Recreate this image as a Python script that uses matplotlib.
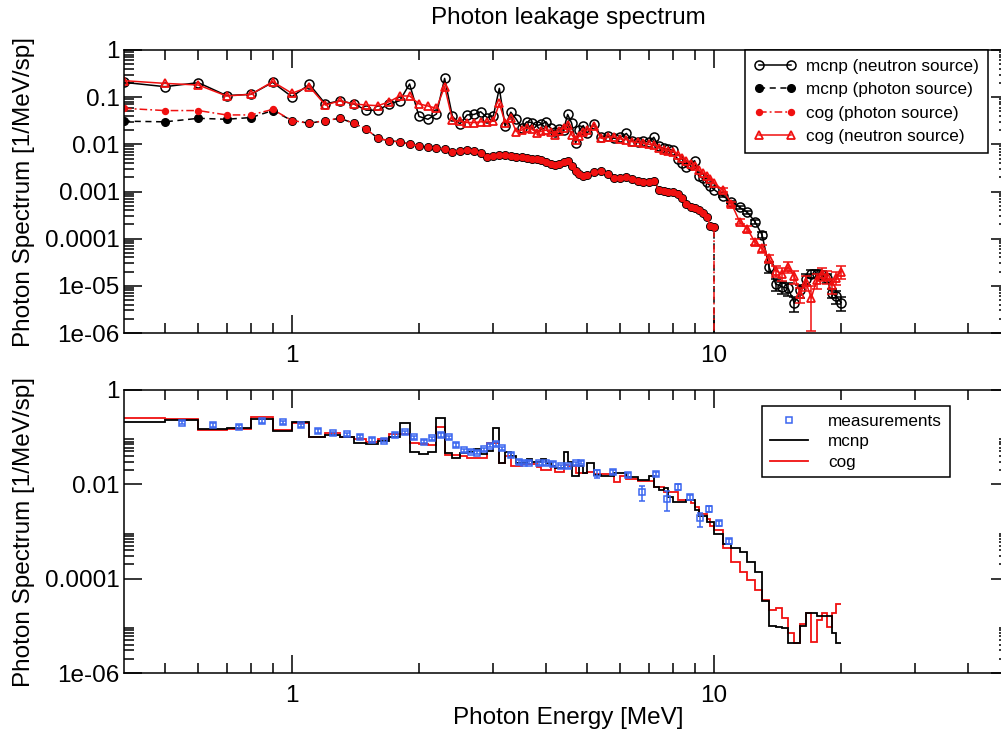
import matplotlib
matplotlib.use("Agg")
import numpy as np
import matplotlib.pyplot as plt
from matplotlib.ticker import FixedLocator, FixedFormatter, NullFormatter

# %% DATA
# photon energy grid of the top panel [MeV]
e_grid = [0.4, 0.5, 0.6, 0.7, 0.8, 0.9, 1.0, 1.1, 1.2, 1.3,
          1.4, 1.5, 1.6, 1.7, 1.8, 1.9, 2.0, 2.1, 2.2, 2.3,
          2.4, 2.5, 2.6, 2.7, 2.8, 2.9, 3.0, 3.1, 3.2, 3.3,
          3.4, 3.5, 3.6, 3.7, 3.8, 3.9, 4.0, 4.1, 4.2, 4.3,
          4.4, 4.5, 4.6, 4.7, 4.8, 4.9, 5.0,
          5.2, 5.4, 5.6, 5.8, 6.0, 6.2, 6.4, 6.6, 6.8, 7.0,
          7.2, 7.4, 7.6, 7.8, 8.0, 8.2, 8.4, 8.6, 8.8, 9.0,
          9.2, 9.4, 9.6, 9.8, 10.0]
e_tail = [10.5, 11.0, 11.5, 12.0, 12.5, 13.0, 13.5, 14.0, 14.5, 15.0,
          15.5, 16.0, 16.5, 17.0, 17.5, 18.0, 18.5, 19.0, 19.5, 20.0]

mcnp_neutron = [0.206, 0.167, 0.203, 0.108, 0.115, 0.206, 0.102, 0.187, 0.072, 0.084,
                0.072, 0.053, 0.053, 0.072, 0.084, 0.19, 0.039, 0.034, 0.044, 0.25,
                0.039, 0.027, 0.042, 0.043, 0.049, 0.037, 0.040, 0.154, 0.024, 0.048,
                0.034, 0.0225, 0.030, 0.029, 0.025, 0.0265, 0.030, 0.022, 0.0185, 0.021,
                0.020, 0.043, 0.028, 0.0105, 0.020, 0.025, 0.017,
                0.0275, 0.0144, 0.015, 0.0134, 0.014, 0.017, 0.012, 0.0113, 0.012, 0.011,
                0.0141, 0.009, 0.0082, 0.0078, 0.0076, 0.0048, 0.004, 0.0033, 0.0037, 0.0045,
                0.0021, 0.0019, 0.0016, 0.0013, 0.0011]
mcnp_neutron_tail = [8.0e-4, 6.1e-4, 4.6e-4, 3.6e-4, 2.3e-4, 1.2e-4, 2.5e-5, 1.1e-5, 9.5e-6, 8.8e-6,
                     4.3e-6, 8.0e-6, 1.4e-5, 1.8e-5, 1.8e-5, 1.7e-5, 1.45e-5, 7.0e-6, 6.0e-6, 4.4e-6]
mcnp_neutron_relerr = [0.05, 0.05, 0.08, 0.08, 0.1, 0.15, 0.25, 0.3, 0.3, 0.3,
                       0.35, 0.3, 0.25, 0.2, 0.2, 0.2, 0.2, 0.2, 0.3, 0.35]

cog_neutron = [0.224, 0.196, 0.181, 0.106, 0.115, 0.213, 0.121, 0.167, 0.068, 0.084,
               0.072, 0.068, 0.066, 0.080, 0.106, 0.106, 0.072, 0.065, 0.058, 0.167,
               0.033, 0.031, 0.029, 0.029, 0.030, 0.030, 0.031, 0.074, 0.029, 0.0355,
               0.0185, 0.020, 0.022, 0.021, 0.0176, 0.019, 0.020, 0.018, 0.0158, 0.019,
               0.022, 0.0258, 0.016, 0.0123, 0.015, 0.018, 0.020,
               0.0245, 0.0134, 0.014, 0.0144, 0.013, 0.0125, 0.0113, 0.011, 0.0105, 0.010,
               0.0097, 0.0085, 0.0076, 0.0073, 0.0070, 0.0060, 0.0051, 0.0044, 0.0038, 0.0034,
               0.0028, 0.0025, 0.0021, 0.0018, 0.0015]
cog_neutron_tail = [1.08e-3, 5.5e-4, 2.3e-4, 1.6e-4, 8.5e-5, 6.2e-5, 3.8e-5, 2.1e-5, 1.8e-5, 2.5e-5,
                    1.6e-5, 6.8e-6, 1.2e-5, 5.5e-6, 1.3e-5, 1.8e-5, 1.6e-5, 1.05e-5, 1.5e-5, 2.0e-5]
cog_neutron_relerr = [0.08, 0.1, 0.12, 0.15, 0.15, 0.2, 0.2, 0.25, 0.3, 0.25,
                      0.3, 0.35, 0.35, 0.8, 0.35, 0.3, 0.3, 0.35, 0.3, 0.3]

mcnp_photon = [0.031, 0.030, 0.0356, 0.034, 0.037, 0.052, 0.032, 0.028, 0.032, 0.0356,
               0.028, 0.021, 0.0134, 0.0119, 0.0113, 0.0101, 0.0092, 0.0087, 0.0082, 0.0079,
               0.0070, 0.0074, 0.0076, 0.0074, 0.0064, 0.0055, 0.0056, 0.0058, 0.0060, 0.0057,
               0.0055, 0.0054, 0.0052, 0.0050, 0.0048, 0.0046, 0.0043, 0.0039, 0.0036, 0.0039,
               0.0043, 0.0045, 0.0035, 0.0027, 0.0023, 0.0021, 0.0022,
               0.0026, 0.0027, 0.0023, 0.0019, 0.0019, 0.0020, 0.0018, 0.0017, 0.0016, 0.0016,
               0.0017, 0.0011, 0.00102, 0.00100, 0.00096, 0.00088, 0.00072, 0.00054, 0.00048, 0.00045,
               0.00041, 0.00035, 0.00029, 0.00019, 0.00018]
cog_photon = [0.058, 0.052, 0.052, 0.042, 0.042, 0.055, 0.032, 0.028, 0.032, 0.0356,
              0.028, 0.021, 0.0134, 0.0119, 0.0113, 0.0101, 0.0092, 0.0087, 0.0082, 0.0079,
              0.0070, 0.0074, 0.0076, 0.0074, 0.0064, 0.0055, 0.0056, 0.0058, 0.0060, 0.0057,
              0.0055, 0.0054, 0.0052, 0.0050, 0.0048, 0.0046, 0.0043, 0.0039, 0.0036, 0.0039,
              0.0043, 0.0045, 0.0035, 0.0027, 0.0023, 0.0021, 0.0022,
              0.0026, 0.0027, 0.0023, 0.0019, 0.0019, 0.0020, 0.0018, 0.0017, 0.0016, 0.0016,
              0.0017, 0.0011, 0.00102, 0.00100, 0.00096, 0.00088, 0.00072, 0.00054, 0.00048, 0.00045,
              0.00041, 0.00035, 0.00029, 0.00019, 0.00018]
# photon-source spectra end at 10 MeV (drop to zero)
photon_cutoff_e = 10.0
photon_cutoff_val = 1e-9

# bottom panel: histogram bin edges [MeV]
edges = [0.4, 0.5, 0.6, 0.7, 0.8, 0.9, 1.0, 1.1, 1.2, 1.3,
         1.4, 1.5, 1.6, 1.7, 1.8, 1.9, 2.0, 2.1, 2.2, 2.3,
         2.4, 2.5, 2.6, 2.7, 2.8, 2.9, 3.0, 3.1, 3.2, 3.3,
         3.4, 3.5, 3.6, 3.7, 3.8, 3.9, 4.0, 4.1, 4.2, 4.3,
         4.4, 4.5, 4.6, 4.7, 4.8, 4.9, 5.0,
         5.2, 5.4, 5.6, 5.8, 6.0, 6.2, 6.4, 6.6, 6.8, 7.0,
         7.2, 7.4, 7.6, 7.8, 8.0, 8.2, 8.4, 8.6, 8.8, 9.0,
         9.2, 9.4, 9.6, 9.8, 10.0,
         10.5, 11.0, 11.5, 12.0, 12.5, 13.0, 13.5, 14.0, 14.5, 15.0,
         15.5, 16.0, 16.5, 17.0, 17.5, 18.0, 18.5, 19.0, 19.5, 20.0]

mcnp_hist = [0.206, 0.231, 0.149, 0.153, 0.247, 0.137, 0.213, 0.100, 0.111, 0.100,
             0.076, 0.070, 0.084, 0.103, 0.197, 0.049, 0.044, 0.049, 0.250, 0.047,
             0.036, 0.047, 0.049, 0.055, 0.044, 0.050, 0.158, 0.029, 0.049, 0.039,
             0.028, 0.028, 0.034, 0.030, 0.030, 0.034, 0.029, 0.024, 0.022, 0.022,
             0.048, 0.030, 0.015, 0.015, 0.024, 0.0172,
             0.029, 0.0159, 0.015, 0.015, 0.017, 0.0177, 0.0142, 0.0142, 0.0123, 0.0123,
             0.015, 0.0089, 0.0076, 0.0082, 0.0053, 0.0043, 0.0043, 0.0043, 0.0047, 0.0047,
             0.0029, 0.0021, 0.0021, 0.0016, 0.0016,
             9.0e-4, 5.5e-4, 4.4e-4, 3.6e-4, 2.3e-4, 1.4e-4, 3.3e-5, 1.0e-5, 9.5e-6, 9.0e-6,
             4.3e-6, 4.3e-6, 1.0e-5, 1.85e-5, 1.85e-5, 1.6e-5, 1.6e-5, 1.6e-5, 7.0e-6, 4.3e-6]
cog_hist = [0.259, 0.243, 0.142, 0.149, 0.263, 0.142, 0.197, 0.100, 0.120, 0.103,
            0.090, 0.080, 0.091, 0.115, 0.117, 0.076, 0.070, 0.068, 0.167, 0.042,
            0.042, 0.039, 0.036, 0.036, 0.036, 0.076, 0.076, 0.029, 0.040, 0.024,
            0.024, 0.027, 0.027, 0.027, 0.023, 0.020, 0.020, 0.024, 0.0185, 0.0185,
            0.026, 0.024, 0.024, 0.0172, 0.0172, 0.0172,
            0.0185, 0.0165, 0.0165, 0.0165, 0.0113, 0.015, 0.0128, 0.0128, 0.012, 0.012,
            0.012, 0.0089, 0.0089, 0.0070, 0.0070, 0.0070, 0.0047, 0.0047, 0.0047, 0.0040,
            0.0033, 0.0024, 0.0024, 0.0018, 0.0013,
            1.1e-3, 4.5e-4, 2.3e-4, 1.4e-4, 9.4e-5, 5.8e-5, 3.6e-5, 2.2e-5, 2.4e-5, 1.5e-5,
            7.0e-6, 4.3e-6, 1.1e-5, 1.85e-5, 4.6e-6, 1.3e-5, 1.85e-5, 9.6e-6, 1.85e-5, 2.9e-5]

meas_e = [0.55, 0.65, 0.75, 0.85, 0.95, 1.05, 1.15, 1.25, 1.35, 1.45,
          1.55, 1.65, 1.75, 1.85, 1.95, 2.05, 2.15, 2.25, 2.35, 2.45,
          2.55, 2.65, 2.75, 2.85, 2.95, 3.05, 3.15, 3.3, 3.45, 3.55,
          3.65, 3.85, 4.0, 4.15, 4.35, 4.5, 4.7, 4.85, 5.27, 5.77,
          6.25, 6.75, 7.3, 7.75, 8.2, 8.75, 9.25, 9.75, 10.3, 10.85]
meas_val = [0.203, 0.181, 0.167, 0.220, 0.206, 0.180, 0.136, 0.121, 0.115, 0.103,
            0.087, 0.084, 0.111, 0.127, 0.100, 0.080, 0.094, 0.111, 0.100, 0.068,
            0.053, 0.049, 0.047, 0.055, 0.066, 0.072, 0.058, 0.042, 0.030, 0.029,
            0.029, 0.028, 0.028, 0.027, 0.024, 0.024, 0.028, 0.029, 0.017, 0.0185,
            0.016, 0.0068, 0.0163, 0.0049, 0.0089, 0.0053, 0.0019, 0.0030, 0.0015, 0.00062]
meas_relerr = [0.08, 0.08, 0.08, 0.08, 0.08, 0.08, 0.08, 0.08, 0.08, 0.08,
               0.08, 0.08, 0.08, 0.08, 0.08, 0.08, 0.08, 0.08, 0.08, 0.08,
               0.08, 0.08, 0.08, 0.08, 0.08, 0.08, 0.08, 0.08, 0.08, 0.08,
               0.08, 0.08, 0.08, 0.08, 0.08, 0.08, 0.08, 0.08, 0.18, 0.1,
               0.1, 0.36, 0.1, 0.45, 0.15, 0.12, 0.33, 0.15, 0.12, 0.12]

# %% PLOTTING
plt.rcParams['font.family'] = ['Liberation Sans', 'DejaVu Sans']
RED = '#f01010'
BLUE = '#3a66f0'

fig = plt.figure(figsize=(10.01, 7.36), dpi=100)
ax1 = fig.add_axes([124 / 1001, 1 - 333 / 736, 885 / 1001, 283 / 736])
ax2 = fig.add_axes([124 / 1001, 1 - 673 / 736, 885 / 1001, 283 / 736])

# top panel
e_neutron = e_grid + e_tail
l1, = ax1.plot(e_neutron, mcnp_neutron + mcnp_neutron_tail, color='k', lw=1.1,
               marker='o', ms=6.5, mfc='none', mec='k', mew=1.1,
               label='mcnp (neutron source)')
ax1.errorbar(e_tail, mcnp_neutron_tail,
             yerr=np.array(mcnp_neutron_tail) * np.array(mcnp_neutron_relerr),
             fmt='none', ecolor='k', elinewidth=1.1, capsize=3.5, capthick=1.1)
e_photon = e_grid + [photon_cutoff_e]
l2, = ax1.plot(e_photon, mcnp_photon + [photon_cutoff_val], color='k', lw=1.1,
               ls=(0, (4, 3)), marker='o', ms=5.5, mfc='k', mec='k',
               label='mcnp (photon source)')
l3, = ax1.plot(e_photon, cog_photon + [photon_cutoff_val], color=RED, lw=1.1,
               ls=(0, (5, 2, 1.2, 2)), marker='o', ms=4.3, mfc=RED, mec=RED,
               label='cog (photon source)')
l4, = ax1.plot(e_neutron, cog_neutron + cog_neutron_tail, color=RED, lw=1.1,
               marker='^', ms=5.5, mfc='none', mec=RED, mew=1.3,
               label='cog (neutron source)')
ax1.errorbar(e_tail, cog_neutron_tail,
             yerr=np.array(cog_neutron_tail) * np.array(cog_neutron_relerr),
             fmt='none', ecolor=RED, elinewidth=1.1, capsize=3.5, capthick=1.1)

leg1 = ax1.legend(handles=[l1, l2, l3, l4], loc='upper right',
                  bbox_to_anchor=(0.976, 1.0), borderaxespad=0, numpoints=2,
                  fontsize=12.3, handlelength=2.5, handletextpad=0.6,
                  labelspacing=0.5, borderpad=0.5, fancybox=False,
                  framealpha=1, edgecolor='k')
leg1.get_frame().set_linewidth(1.1)

# bottom panel
h_cog = ax2.stairs(cog_hist, edges, color=RED, lw=1.3, baseline=None, label='cog')
h_mcnp = ax2.stairs(mcnp_hist, edges, color='k', lw=1.3, baseline=None, label='mcnp')
ax2.errorbar(meas_e, meas_val, yerr=np.array(meas_val) * np.array(meas_relerr),
             fmt='none', ecolor=BLUE, elinewidth=1.1, capsize=2.5, capthick=1.1)
h_meas, = ax2.plot(meas_e, meas_val, ls='none', marker='s', ms=3.8, mfc='none',
                   mec=BLUE, mew=1.1, label='measurements')
leg2 = ax2.legend(handles=[h_meas, h_mcnp, h_cog], loc='upper right',
                  bbox_to_anchor=(0.933, 0.943), borderaxespad=0, numpoints=1,
                  fontsize=12.3, handlelength=2.2, handletextpad=1.2,
                  labelspacing=0.32, borderpad=0.45, fancybox=False,
                  framealpha=1, edgecolor='k')
leg2.get_frame().set_linewidth(1.1)

# axes styling
for ax in (ax1, ax2):
    ax.set_xscale('log')
    ax.set_yscale('log')
    ax.set_xlim(0.4, 50)
    ax.set_ylim(1e-6, 1)
    ax.xaxis.set_major_locator(FixedLocator([1, 10]))
    ax.xaxis.set_major_formatter(FixedFormatter(['1', '10']))
    ax.xaxis.set_minor_locator(FixedLocator(
        [0.5, 0.6, 0.7, 0.8, 0.9, 2, 3, 4, 5, 6, 7, 8, 9, 20, 30, 40]))
    ax.xaxis.set_minor_formatter(NullFormatter())
    ax.tick_params(which='both', direction='in', top=True, right=True,
                   width=1.1, labelsize=17.5)
    ax.tick_params(which='major', length=13)
    ax.tick_params(which='minor', length=7)
    ax.tick_params(axis='x', pad=9)
    ax.tick_params(axis='y', pad=3)
    for s in ax.spines.values():
        s.set_linewidth(1.1)

ax1.yaxis.set_major_locator(FixedLocator([1, 0.1, 0.01, 0.001, 0.0001, 1e-5, 1e-6]))
ax1.yaxis.set_major_formatter(FixedFormatter(['1', '0.1', '0.01', '0.001', '0.0001',
                                              '1e-05', '1e-06']))
ax1.yaxis.set_minor_locator(FixedLocator(
    [k * 10.0 ** e for e in range(-6, 0) for k in range(2, 10)]))
ax1.yaxis.set_minor_formatter(NullFormatter())

ax2.yaxis.set_major_locator(FixedLocator([1, 0.01, 0.0001, 1e-6]))
ax2.yaxis.set_major_formatter(FixedFormatter(['1', '0.01', '0.0001', '1e-06']))
ax2.yaxis.set_minor_locator(FixedLocator(
    [k * 10.0 ** e for e in (-2, -4, -6) for k in range(2, 10)]))
ax2.yaxis.set_minor_formatter(NullFormatter())

fig.text(568 / 1001, 1 - 18 / 736, 'Photon leakage spectrum', fontsize=17.5,
         ha='center', va='center')
fig.text(568 / 1001, 1 - 718 / 736, 'Photon Energy [MeV]', fontsize=17.5,
         ha='center', va='center')
fig.text(24 / 1001, 1 - 192 / 736, 'Photon Spectrum [1/MeV/sp]', fontsize=17.5,
         rotation=90, ha='center', va='center')
fig.text(24 / 1001, 1 - 532 / 736, 'Photon Spectrum [1/MeV/sp]', fontsize=17.5,
         rotation=90, ha='center', va='center')

fig.savefig('out.png', dpi=100)
